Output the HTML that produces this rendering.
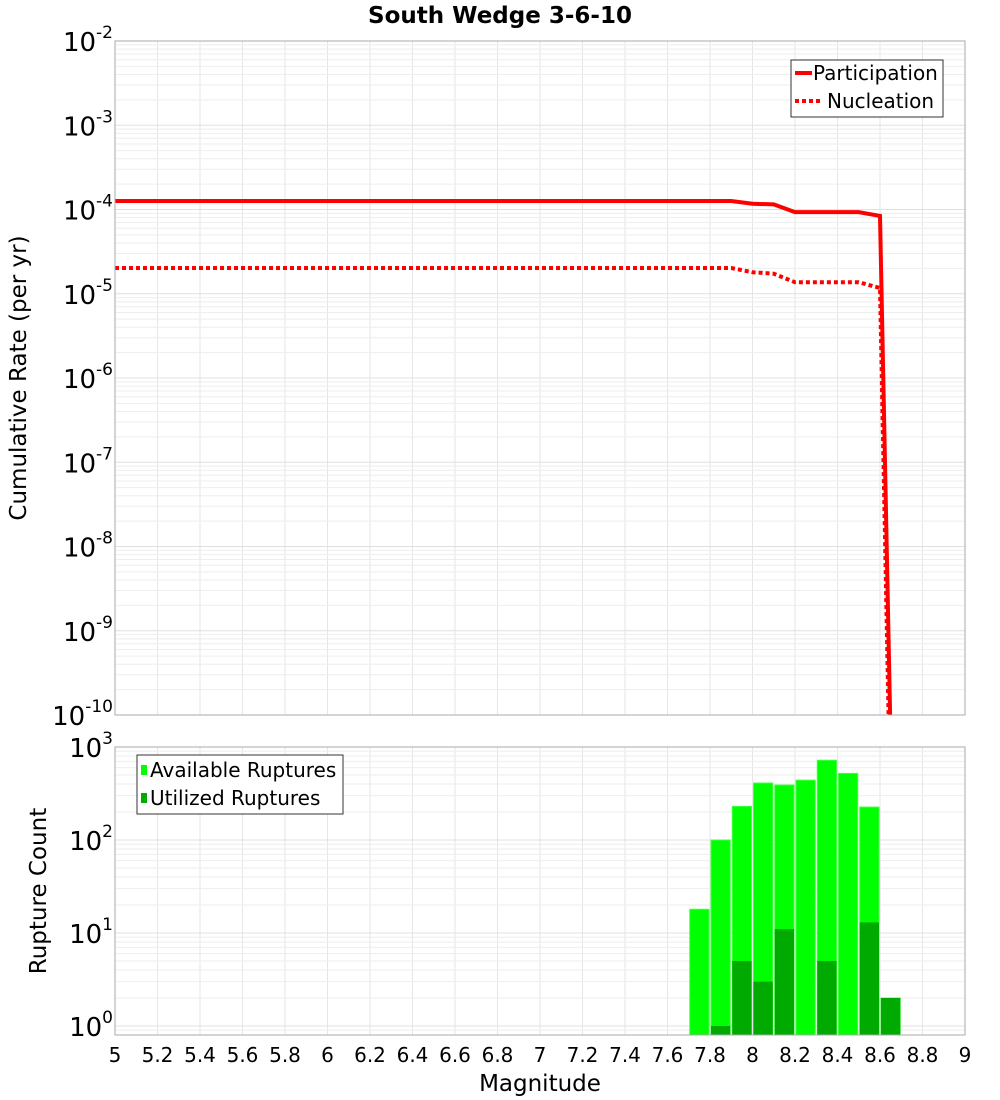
<!DOCTYPE html>
<html><head><meta charset="utf-8"><style>
html,body{margin:0;padding:0;background:#fff;overflow:hidden;width:1000px;height:1100px}
svg{display:block}
svg text{font-family:"DejaVu Sans","Liberation Sans",sans-serif}
</style></head><body>
<svg id="c" width="1000" height="1100" xmlns="http://www.w3.org/2000/svg"></svg>
<script>
const mags=[5.0,5.1,5.2,5.3,5.4,5.5,5.6,5.7,5.8,5.9,6.0,6.1,6.2,6.3,6.4,6.5,6.6,6.7,6.8,6.9,7.0,7.1,7.2,7.3,7.4,7.5,7.6,7.7,7.8,7.9,8.0,8.1,8.2,8.3,8.4,8.5,8.6,8.7];
const participation=[1.26e-4,1.26e-4,1.26e-4,1.26e-4,1.26e-4,1.26e-4,1.26e-4,1.26e-4,1.26e-4,1.26e-4,1.26e-4,1.26e-4,1.26e-4,1.26e-4,1.26e-4,1.26e-4,1.26e-4,1.26e-4,1.26e-4,1.26e-4,1.26e-4,1.26e-4,1.26e-4,1.26e-4,1.26e-4,1.26e-4,1.26e-4,1.26e-4,1.26e-4,1.26e-4,1.17e-4,1.15e-4,9.3e-5,9.3e-5,9.3e-5,9.3e-5,8.4e-5,3e-17];
const nucleation=[2.02e-5,2.02e-5,2.02e-5,2.02e-5,2.02e-5,2.02e-5,2.02e-5,2.02e-5,2.02e-5,2.02e-5,2.02e-5,2.02e-5,2.02e-5,2.02e-5,2.02e-5,2.02e-5,2.02e-5,2.02e-5,2.02e-5,2.02e-5,2.02e-5,2.02e-5,2.02e-5,2.02e-5,2.02e-5,2.02e-5,2.02e-5,2.02e-5,2.02e-5,2.02e-5,1.8e-5,1.73e-5,1.37e-5,1.37e-5,1.37e-5,1.37e-5,1.17e-5,3e-18];
const binCenters=[7.75,7.85,7.95,8.05,8.15,8.25,8.35,8.45,8.55,8.65];
const available=[18,100,230,410,390,440,720,520,226,2];
const utilized=[0,1,5,3,11,0,5,0,13,2];
const xTicks=[5,5.2,5.4,5.6,5.8,6,6.2,6.4,6.6,6.8,7,7.2,7.4,7.6,7.8,8,8.2,8.4,8.6,8.8,9];
const topExps=[-2,-3,-4,-5,-6,-7,-8,-9,-10];
const botExps=[3,2,1,0];

const NS="http://www.w3.org/2000/svg";
const svg=document.getElementById('c');
function el(t,a,p){const e=document.createElementNS(NS,t);for(const k in a)e.setAttribute(k,a[k]);(p||svg).appendChild(e);return e;}
const X0=115,X1=965;
const x=m=>X0+(m-5)/4*(X1-X0);
const T0=41,T1=715;
const yTop=v=>T0+(-2-Math.log10(v))*(T1-T0)/8;
const B0=747,B1=1035,DEC=93;
const yBot=v=>B0+(3-Math.log10(v))*DEC;

const g=el('g',{});


xTicks.forEach(t=>{el('line',{x1:x(t),x2:x(t),y1:T0,y2:T1,stroke:'#e6e6e6'},g);el('line',{x1:x(t),x2:x(t),y1:B0,y2:B1,stroke:'#e6e6e6'},g);});
for(let e=-10;e<-2;e++)for(let k=1;k<10;k++){const y=yTop(k*Math.pow(10,e));el('line',{x1:X0,x2:X1,y1:y,y2:y,stroke:k==1?'#e0e0e0':'#eeeeee'},g);}
for(let e=-1;e<3;e++)for(let k=1;k<10;k++){const y=yBot(k*Math.pow(10,e));if(y>B1||y<B0)continue;el('line',{x1:X0,x2:X1,y1:y,y2:y,stroke:k==1?'#e0e0e0':'#eeeeee'},g);}

const ti=el('text',{x:500,y:23,'text-anchor':'middle','font-size':23,'font-weight':'bold'});ti.textContent='South Wedge 3-6-10';



const cp=el('clipPath',{id:'tc'});el('rect',{x:X0,y:T0,width:X1-X0,height:T1-T0},cp);
function pts(arr){return mags.map((m,i)=>x(m)+','+yTop(arr[i])).join(' ');}
const pl=el('polyline',{points:pts(participation),fill:'none',stroke:'#ff0000','stroke-width':4,'clip-path':'url(#tc)'});


const nl=el('polyline',{points:pts(nucleation),fill:'none',stroke:'#ff0000','stroke-width':4,'stroke-dasharray':'4,3','clip-path':'url(#tc)'});



const bw=x(5.1)-x(5)-2;
binCenters.forEach((c,i)=>{
  const b=el('rect',{x:x(c)-bw/2,y:yBot(available[i]),width:bw,height:B1-yBot(available[i]),fill:'#00ff00',stroke:'#44ff44','stroke-width':1});
  
  
  if(utilized[i]>0){const u=el('rect',{x:x(c)-bw/2,y:yBot(utilized[i]),width:bw,height:B1-yBot(utilized[i]),fill:'#00aa00'});
  
  }
});

el('rect',{x:X0,y:T0,width:X1-X0,height:T1-T0,fill:'none',stroke:'#aaaaaa'});
el('rect',{x:X0,y:B0,width:X1-X0,height:B1-B0,fill:'none',stroke:'#aaaaaa'});

function powLabel(yy,e,name){const t=el('text',{x:113,y:yy+10,'text-anchor':'end','font-size':26});
 const b=el('tspan',{},t);b.textContent='10';const s=el('tspan',{dy:-13,'font-size':17},t);s.textContent=e;
 
 }
topExps.forEach(e=>powLabel(yTop(Math.pow(10,e)),e,'y-tick-label'));
botExps.forEach(e=>powLabel(yBot(Math.pow(10,e)),e,'y2-tick-label'));

xTicks.forEach(t=>{const tx=el('text',{x:x(t),y:1062,'text-anchor':'middle','font-size':20});tx.textContent=String(t);
 
 });

const xl=el('text',{x:540,y:1091,'text-anchor':'middle','font-size':23});xl.textContent='Magnitude';


const yl=el('text',{x:26,y:378,'text-anchor':'middle','font-size':23,transform:'rotate(-90 26 378)'});yl.textContent='Cumulative Rate (per yr)';


const yl2=el('text',{x:46,y:891,'text-anchor':'middle','font-size':23,transform:'rotate(-90 46 891)'});yl2.textContent='Rupture Count';



const lg=el('g',{});


el('rect',{x:791,y:60,width:152,height:57,fill:'#fff',stroke:'#333'},lg);
el('line',{x1:795,x2:812,y1:73,y2:73,stroke:'#f00','stroke-width':4},lg);
el('line',{x1:795,x2:822,y1:101,y2:101,stroke:'#f00','stroke-width':4,'stroke-dasharray':'4,3'},lg);
let t1=el('text',{x:813,y:80,'font-size':20},lg);t1.textContent='Participation';
let t2=el('text',{x:827,y:108,'font-size':20},lg);t2.textContent='Nucleation';
const lg2=el('g',{});


el('rect',{x:137,y:755,width:206,height:59,fill:'#fff',stroke:'#333'},lg2);
el('rect',{x:141,y:765,width:6,height:10,fill:'#00ff00'},lg2);
el('rect',{x:141,y:793,width:6,height:10,fill:'#00aa00'},lg2);
let t3=el('text',{x:150,y:777,'font-size':20},lg2);t3.textContent='Available Ruptures';
let t4=el('text',{x:150,y:805,'font-size':20},lg2);t4.textContent='Utilized Ruptures';
</script>
</body></html>
